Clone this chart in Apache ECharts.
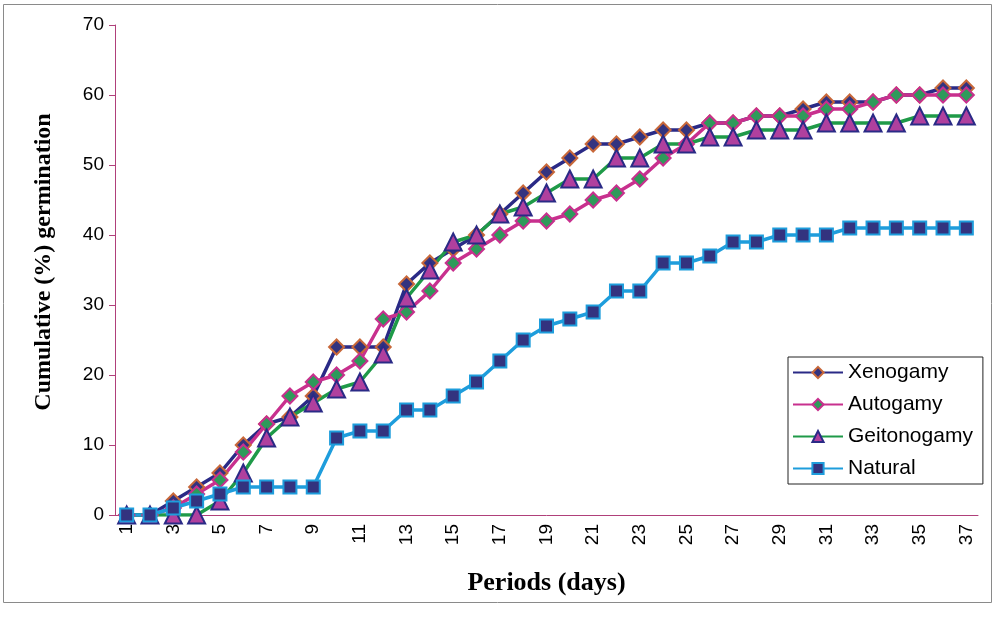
<!DOCTYPE html>
<html>
<head>
<meta charset="utf-8">
<script src="https://cdn.jsdelivr.net/npm/echarts@6/dist/echarts.min.js"></script>
<style>
  html, body { margin: 0; padding: 0; background: #fff; }
  #chart { width: 995px; height: 622px; }
</style>
</head>
<body>
<div id="chart"></div>
<script>
// days 1..37
var days = [];
for (var d = 1; d <= 37; d++) days.push(String(d));

var xenogamy = [0,0,2,4,6,10,13,14,17,24,24,24,33,36,38,40,43,46,49,51,53,53,54,55,55,56,56,57,57,58,59,59,59,60,60,61,61];
var autogamy = [0,0,1,3,5,9,13,17,19,20,22,28,29,32,36,38,40,42,42,43,45,46,48,51,53,56,56,57,57,57,58,58,59,60,60,60,60];
var geitonogamy = [0,0,0,0,2,6,11,14,16,18,19,23,31,35,39,40,43,44,46,48,48,51,51,53,53,54,54,55,55,55,56,56,56,56,57,57,57];
var natural = [0,0,1,2,3,4,4,4,4,11,12,12,15,15,17,19,22,25,27,28,29,32,32,36,36,37,39,39,40,40,40,41,41,41,41,41,41];

var myChart = echarts.init(document.getElementById('chart'));

function serie(name, data, lineColor, symbol, size, fill, border) {
    return {
        name: name,
        type: 'line',
        data: data,
        symbol: symbol,
        symbolSize: size,
        showAllSymbol: true,
        lineStyle: { color: lineColor, width: 3.5 },
        itemStyle: { color: fill, borderColor: border, borderWidth: 2 },
        emphasis: { disabled: true }
    };
}

var option = {
    animation: false,
    graphic: [{
        type: 'rect',
        shape: { x: 3.5, y: 4.5, width: 988, height: 598 },
        style: { fill: 'none', stroke: '#8a8a8a', lineWidth: 1 }
    }],
    grid: { left: 115, right: 17, top: 25, bottom: 107 },
    legend: {
        orient: 'vertical',
        left: 788,
        top: 357,
        width: 194,
        padding: [5, 10, 5, 4],
        itemGap: 11,
        itemWidth: 50,
        itemHeight: 14,
        borderColor: '#222',
        borderWidth: 1,
        textStyle: { fontFamily: 'Liberation Sans, Arial', fontSize: 21, color: '#000' },
        data: ['Xenogamy', 'Autogamy', 'Geitonogamy', 'Natural']
    },
    xAxis: {
        type: 'category',
        data: days,
        name: 'Periods (days)',
        nameLocation: 'middle',
        nameGap: 55,
        nameTextStyle: { fontFamily: 'Liberation Serif, Times New Roman', fontWeight: 'bold', fontSize: 26, color: '#000' },
        axisLine: { lineStyle: { color: '#b0407a', width: 1 } },
        axisTick: { interval: 0, length: 6, lineStyle: { color: '#b0407a' } },
        axisLabel: { interval: 1, rotate: 90, margin: 9, fontFamily: 'Liberation Sans, Arial', fontSize: 19, color: '#000' },
        splitLine: { show: false }
    },
    yAxis: {
        type: 'value',
        min: 0,
        max: 70,
        interval: 10,
        name: 'Cumulative (%) germination',
        nameLocation: 'middle',
        nameGap: 59,
        nameTextStyle: { fontFamily: 'Liberation Serif, Times New Roman', fontWeight: 'bold', fontSize: 24, color: '#000', padding: [0, 0, 0, 16] },
        axisLine: { show: true, lineStyle: { color: '#b0407a', width: 1 } },
        axisTick: { show: true, length: 6, lineStyle: { color: '#b0407a' } },
        axisLabel: { margin: 11, fontFamily: 'Liberation Sans, Arial', fontSize: 19, color: '#000' },
        splitLine: { show: false }
    },
    series: [
        serie('Xenogamy', xenogamy, '#2a2a86', 'diamond', 15, '#33337f', '#c8683a'),
        serie('Autogamy', autogamy, '#c8308e', 'diamond', 15, '#2e9a5a', '#c8308e'),
        serie('Geitonogamy', geitonogamy, '#1f9a48', 'triangle', 17, '#b0409e', '#2a2a86'),
        serie('Natural', natural, '#1e9ddc', 'rect', 13, '#33337f', '#1e9ddc')
    ]
};
myChart.setOption(option);
</script>
</body>
</html>
